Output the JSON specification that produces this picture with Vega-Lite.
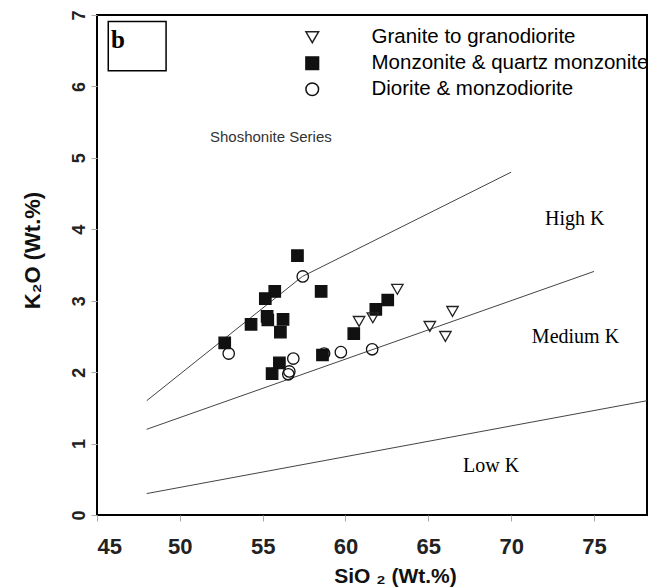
{
  "$schema": "https://vega.github.io/schema/vega-lite/v6.json",
  "width": 550,
  "height": 500,
  "autosize": {"type": "none"},
  "padding": {"left": 97, "top": 15, "right": 13, "bottom": 73},
  "background": "white",
  "config": {
    "view": {"stroke": "black", "strokeWidth": 2},
    "axis": {
      "domain": false,
      "grid": false,
      "labelFont": "Liberation Sans",
      "labelFontWeight": "bold",
      "labelFontSize": 18,
      "labelColor": "#222",
      "tickColor": "#aaa",
      "tickSize": 6,
      "titleFont": "Liberation Sans",
      "titleFontWeight": "bold",
      "titleFontSize": 22,
      "titleColor": "#111"
    },
    "legend": {
      "orient": "none",
      "legendX": 205,
      "legendY": 12,
      "padding": 0,
      "labelFont": "Liberation Sans",
      "labelFontSize": 20.5,
      "labelColor": "black",
      "labelOffset": 49,
      "labelLimit": 400,
      "symbolSize": 160,
      "symbolStrokeWidth": 1.5,
      "rowPadding": 5
    }
  },
  "datasets": {
    "boundaries": [
      {"boundary": "High-K / Shoshonite", "sio2": 48.0, "k2o": 1.6},
      {"boundary": "High-K / Shoshonite", "sio2": 57.4, "k2o": 3.34},
      {"boundary": "High-K / Shoshonite", "sio2": 70.0, "k2o": 4.8},
      {"boundary": "Medium-K / High-K", "sio2": 48.0, "k2o": 1.2},
      {"boundary": "Medium-K / High-K", "sio2": 75.0, "k2o": 3.41},
      {"boundary": "Low-K / Medium-K", "sio2": 48.0, "k2o": 0.3},
      {"boundary": "Low-K / Medium-K", "sio2": 78.2, "k2o": 1.6}
    ],
    "samples": [
      {"rock": "Monzonite & quartz monzonite", "sio2": 57.10, "k2o": 3.63},
      {"rock": "Monzonite & quartz monzonite", "sio2": 55.73, "k2o": 3.13},
      {"rock": "Monzonite & quartz monzonite", "sio2": 55.16, "k2o": 3.03},
      {"rock": "Monzonite & quartz monzonite", "sio2": 58.53, "k2o": 3.13},
      {"rock": "Monzonite & quartz monzonite", "sio2": 54.30, "k2o": 2.67},
      {"rock": "Monzonite & quartz monzonite", "sio2": 55.27, "k2o": 2.78},
      {"rock": "Monzonite & quartz monzonite", "sio2": 55.31, "k2o": 2.73},
      {"rock": "Monzonite & quartz monzonite", "sio2": 56.23, "k2o": 2.74},
      {"rock": "Monzonite & quartz monzonite", "sio2": 56.07, "k2o": 2.56},
      {"rock": "Monzonite & quartz monzonite", "sio2": 52.71, "k2o": 2.41},
      {"rock": "Monzonite & quartz monzonite", "sio2": 56.01, "k2o": 2.13},
      {"rock": "Monzonite & quartz monzonite", "sio2": 55.57, "k2o": 1.98},
      {"rock": "Monzonite & quartz monzonite", "sio2": 58.61, "k2o": 2.24},
      {"rock": "Monzonite & quartz monzonite", "sio2": 60.50, "k2o": 2.54},
      {"rock": "Monzonite & quartz monzonite", "sio2": 61.83, "k2o": 2.88},
      {"rock": "Monzonite & quartz monzonite", "sio2": 62.55, "k2o": 3.01},
      {"rock": "Diorite & monzodiorite", "sio2": 57.42, "k2o": 3.34},
      {"rock": "Diorite & monzodiorite", "sio2": 52.95, "k2o": 2.26},
      {"rock": "Diorite & monzodiorite", "sio2": 56.85, "k2o": 2.19},
      {"rock": "Diorite & monzodiorite", "sio2": 56.61, "k2o": 2.01},
      {"rock": "Diorite & monzodiorite", "sio2": 56.55, "k2o": 1.97},
      {"rock": "Diorite & monzodiorite", "sio2": 58.71, "k2o": 2.26},
      {"rock": "Diorite & monzodiorite", "sio2": 59.72, "k2o": 2.28},
      {"rock": "Diorite & monzodiorite", "sio2": 61.61, "k2o": 2.32},
      {"rock": "Granite to granodiorite", "sio2": 63.13, "k2o": 3.16},
      {"rock": "Granite to granodiorite", "sio2": 60.82, "k2o": 2.71},
      {"rock": "Granite to granodiorite", "sio2": 61.65, "k2o": 2.76},
      {"rock": "Granite to granodiorite", "sio2": 66.46, "k2o": 2.85},
      {"rock": "Granite to granodiorite", "sio2": 65.09, "k2o": 2.64},
      {"rock": "Granite to granodiorite", "sio2": 66.03, "k2o": 2.50}
    ],
    "one": [{}]
  },
  "layer": [
    {
      "data": {"name": "boundaries"},
      "mark": {"type": "line", "color": "#444", "strokeWidth": 1, "clip": true},
      "encoding": {
        "x": {
          "field": "sio2",
          "type": "quantitative",
          "scale": {"domain": [45, 78.2], "nice": false, "zero": false},
          "axis": {
            "values": [45, 50, 55, 60, 65, 70, 75],
            "format": "d",
            "title": "SiO ₂ (Wt.%)",
            "labelFontSize": 22,
            "labelBaseline": "alphabetic",
            "labelPadding": 32,
            "titleFontSize": 21,
            "titleX": 298,
            "titleAlign": "center",
            "titleY": 67,
            "titleBaseline": "alphabetic"
          }
        },
        "y": {
          "field": "k2o",
          "type": "quantitative",
          "scale": {"domain": [0, 7], "nice": false, "zero": false},
          "axis": {
            "values": [0, 1, 2, 3, 4, 5, 6, 7],
            "format": "d",
            "title": "K₂O (Wt.%)",
            "labelAngle": -90,
            "labelAlign": "center",
            "labelBaseline": "alphabetic",
            "labelPadding": 7,
            "titleAngle": -90,
            "titleX": -65,
            "titleY": 235,
            "titleAlign": "center",
            "titleBaseline": "middle"
          }
        },
        "detail": {"field": "boundary", "type": "nominal"}
      }
    },
    {
      "data": {"name": "samples"},
      "mark": {"type": "point", "filled": true, "size": 130, "strokeWidth": 1.3, "opacity": 1},
      "encoding": {
        "x": {"field": "sio2", "type": "quantitative"},
        "y": {"field": "k2o", "type": "quantitative"},
        "shape": {
          "field": "rock",
          "type": "nominal",
          "title": null,
          "scale": {
            "domain": ["Granite to granodiorite", "Monzonite & quartz monzonite", "Diorite & monzodiorite"],
            "range": ["triangle-down", "square", "circle"]
          }
        },
        "fill": {
          "field": "rock",
          "type": "nominal",
          "title": null,
          "scale": {
            "domain": ["Granite to granodiorite", "Monzonite & quartz monzonite", "Diorite & monzodiorite"],
            "range": ["transparent", "#111", "transparent"]
          }
        },
        "stroke": {
          "field": "rock",
          "type": "nominal",
          "title": null,
          "scale": {
            "domain": ["Granite to granodiorite", "Monzonite & quartz monzonite", "Diorite & monzodiorite"],
            "range": ["#222", "#111", "#111"]
          }
        }
      }
    },
    {
      "data": {"name": "one"},
      "mark": {"type": "rect", "fill": "transparent", "stroke": "black", "strokeWidth": 1.5},
      "encoding": {
        "x": {"datum": 45.68, "type": "quantitative"},
        "x2": {"datum": 49.17},
        "y": {"datum": 6.91, "type": "quantitative"},
        "y2": {"datum": 6.22}
      }
    },
    {
      "data": {"name": "one"},
      "mark": {"type": "text", "text": "b", "font": "Liberation Serif", "fontWeight": "bold", "fontSize": 25, "align": "left", "baseline": "alphabetic", "color": "black"},
      "encoding": {
        "x": {"datum": 45.85, "type": "quantitative"},
        "y": {"datum": 6.54, "type": "quantitative"}
      }
    },
    {
      "data": {"name": "one"},
      "mark": {"type": "text", "text": "Shoshonite Series", "font": "Liberation Sans", "fontSize": 15, "align": "left", "baseline": "middle", "color": "#333"},
      "encoding": {
        "x": {"datum": 51.82, "type": "quantitative"},
        "y": {"datum": 5.29, "type": "quantitative"}
      }
    },
    {
      "data": {"name": "one"},
      "mark": {"type": "text", "text": "High K", "font": "Liberation Serif", "fontSize": 20, "align": "left", "baseline": "middle", "color": "black"},
      "encoding": {
        "x": {"datum": 72.05, "type": "quantitative"},
        "y": {"datum": 4.15, "type": "quantitative"}
      }
    },
    {
      "data": {"name": "one"},
      "mark": {"type": "text", "text": "Medium K", "font": "Liberation Serif", "fontSize": 20, "align": "left", "baseline": "middle", "color": "black"},
      "encoding": {
        "x": {"datum": 71.25, "type": "quantitative"},
        "y": {"datum": 2.49, "type": "quantitative"}
      }
    },
    {
      "data": {"name": "one"},
      "mark": {"type": "text", "text": "Low K", "font": "Liberation Serif", "fontSize": 20, "align": "left", "baseline": "middle", "color": "black"},
      "encoding": {
        "x": {"datum": 67.1, "type": "quantitative"},
        "y": {"datum": 0.68, "type": "quantitative"}
      }
    }
  ]
}
